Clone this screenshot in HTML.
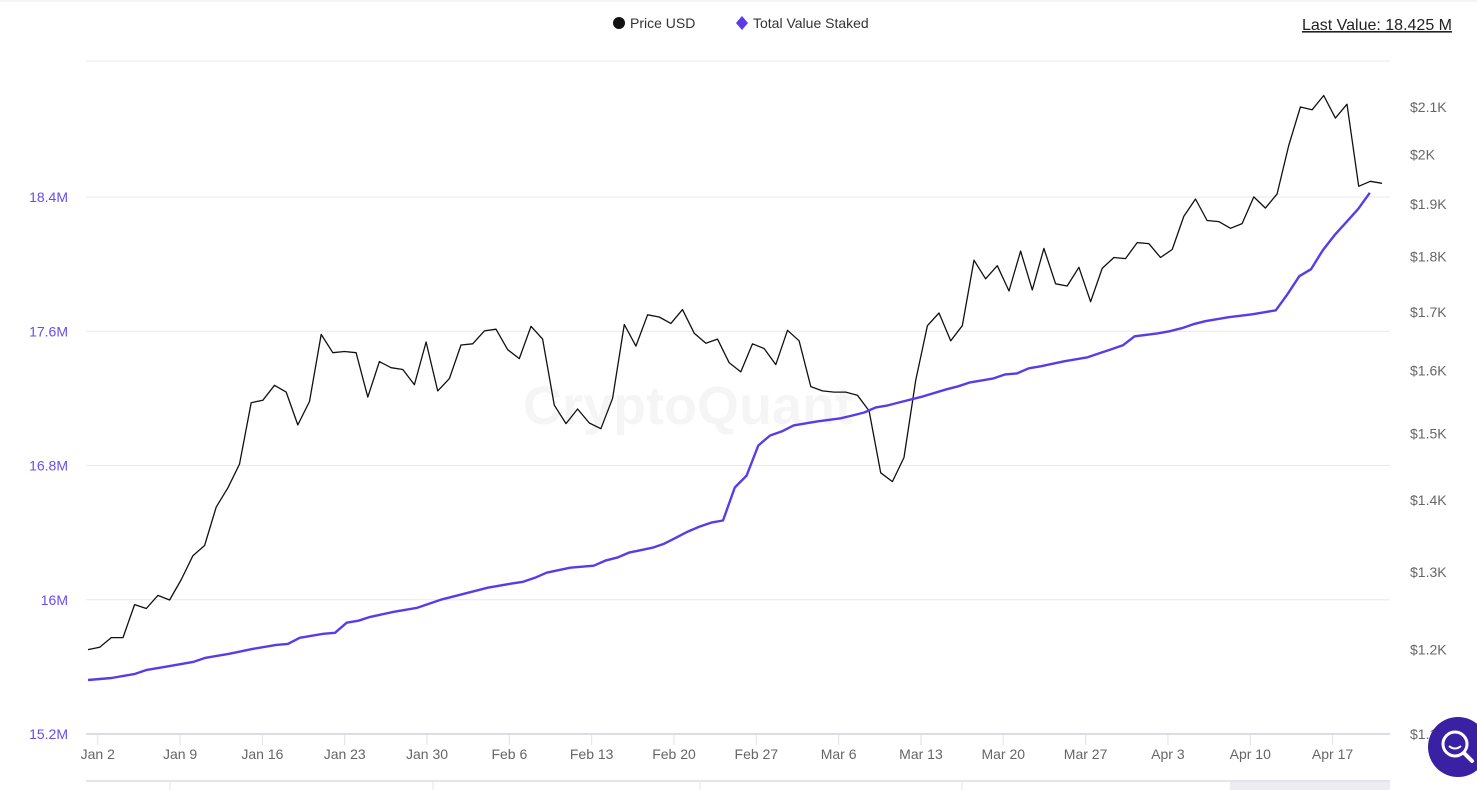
<!DOCTYPE html>
<html><head><meta charset="utf-8"><style>
html,body{margin:0;padding:0;background:#fff;width:1477px;height:790px;overflow:hidden;font-family:"Liberation Sans",sans-serif}
svg text{font-family:"Liberation Sans",sans-serif}
</style></head><body>
<svg id="chart" width="1477" height="790" xmlns="http://www.w3.org/2000/svg">
<line x1="0" y1="1" x2="1477" y2="1" stroke="#e8e8ee" stroke-width="1"/>
<g>
 <g><circle cx="619" cy="23" r="6" fill="#111"/><text x="630" y="28" font-size="14" fill="#333">Price USD</text></g>
 <g><path d="M742 16 L748 23 L742 30 L736 23 Z" fill="#5b3be8"/><text x="753" y="28" font-size="14" fill="#333">Total Value Staked</text></g>
</g>
<text x="1452" y="30" text-anchor="end" font-size="16" fill="#222" text-decoration="underline">Last Value: 18.425 M</text>
<text x="688" y="424" text-anchor="middle" font-size="54" font-weight="bold" fill="#000" opacity="0.035">CryptoQuant</text>
<g id="grid"></g>
<g id="laxis"></g>
<g id="raxis"></g>
<g id="xaxis"></g>
<g id="series"></g>
<g>
 <line x1="86" y1="781" x2="1390" y2="781" stroke="#e4e4ec" stroke-width="2"/>
 <rect x="1230" y="782" width="160" height="8" fill="#ececf2"/>
 <line x1="170" y1="781" x2="170" y2="790" stroke="#e4e4ec"/>
 <line x1="433" y1="781" x2="433" y2="790" stroke="#e4e4ec"/>
 <line x1="700" y1="781" x2="700" y2="790" stroke="#e4e4ec"/>
 <line x1="962" y1="781" x2="962" y2="790" stroke="#e4e4ec"/>
</g>
<g>
 <circle cx="1458" cy="747" r="30" fill="#3a20a3"/>
 <circle cx="1455" cy="744" r="12" fill="none" stroke="#fff" stroke-width="3"/>
 <path d="M1449 746 Q1455 751 1461 746" fill="none" stroke="#fff" stroke-width="2"/>
 <line x1="1464" y1="753" x2="1472" y2="761" stroke="#fff" stroke-width="4" stroke-linecap="round"/>
</g>
</svg>
<script>
const xTickLabels=["Jan 2","Jan 9","Jan 16","Jan 23","Jan 30","Feb 6","Feb 13","Feb 20","Feb 27","Mar 6","Mar 13","Mar 20","Mar 27","Apr 3","Apr 10","Apr 17"];
const xTickDays=[1,8,15,22,29,36,43,50,57,64,71,78,85,92,99,106];
const leftTicks=[15.2,16,16.8,17.6,18.4];
const leftTickLabels=["15.2M","16M","16.8M","17.6M","18.4M"];
const rightTicks=[1100,1200,1300,1400,1500,1600,1700,1800,1900,2000,2100];
const rightTickLabels=["$1.1K","$1.2K","$1.3K","$1.4K","$1.5K","$1.6K","$1.7K","$1.8K","$1.9K","$2K","$2.1K"];
const priceValues=[1200,1203,1215,1215,1257,1252,1269,1263,1290,1322,1336,1390,1418,1453,1548,1552,1576,1565,1513,1550,1661,1630,1632,1630,1557,1615,1605,1602,1577,1648,1567,1587,1643,1645,1667,1670,1635,1620,1675,1653,1544,1515,1538,1516,1507,1555,1678,1641,1695,1691,1680,1704,1663,1646,1653,1613,1598,1645,1637,1610,1668,1650,1574,1567,1565,1565,1560,1535,1440,1427,1463,1584,1676,1698,1650,1676,1793,1759,1783,1737,1810,1739,1815,1750,1746,1780,1718,1778,1798,1796,1826,1824,1798,1813,1876,1910,1868,1866,1853,1862,1914,1892,1920,2018,2100,2094,2125,2076,2106,1935,1945,1941];
const stakedDays=[0,2,4,5,7,9,10,12,14,16,17,18,20,21,22,23,24,26,28,29,30,31,33,34,36,37,38,39,41,43,44,45,46,48,49,50,51,52,53,54,55,56,57,58,59,60,62,64,65,66,67,68,69,71,73,74,75,76,77,78,79,80,81,83,85,86,87,88,89,91,92,93,94,95,97,99,100,101,102,103,104,105,106,107,108,109];
const stakedValues=[15.522,15.534,15.558,15.582,15.606,15.630,15.654,15.678,15.707,15.731,15.737,15.773,15.797,15.803,15.863,15.875,15.898,15.928,15.952,15.976,16.000,16.018,16.054,16.072,16.096,16.107,16.131,16.161,16.191,16.203,16.233,16.251,16.281,16.310,16.334,16.370,16.406,16.436,16.460,16.472,16.669,16.740,16.919,16.979,17.003,17.039,17.063,17.081,17.098,17.116,17.146,17.158,17.176,17.212,17.254,17.272,17.295,17.307,17.319,17.343,17.349,17.379,17.391,17.421,17.445,17.469,17.492,17.516,17.570,17.588,17.600,17.618,17.642,17.660,17.684,17.701,17.713,17.725,17.821,17.928,17.970,18.083,18.173,18.250,18.328,18.425];

const NS="http://www.w3.org/2000/svg";
function mk(tag,attrs,parent){const e=document.createElementNS(NS,tag);for(const k in attrs)e.setAttribute(k,attrs[k]);parent.appendChild(e);return e;}
const X0=88,DAYPX=11.76,YB=734,YT=197;
const xDay=d=>X0+d*DAYPX;
const yLeft=v=>YB-(v-15.2)/(18.4-15.2)*(YB-YT);
const lg=Math.log10;
const yRight=p=>107+(lg(2100)-lg(p))/(lg(2100)-lg(1100))*(734-107);
const priceX=i=>X0+i*(1294/(priceValues.length-1));

const grid=document.getElementById('grid');
[61].concat(leftTicks.map(yLeft)).forEach((y,i)=>{
 const l=mk('line',{x1:86,x2:1390,y1:y,y2:y,stroke:i==1?'#dcdce6':'#e8e8ee','stroke-width':i==1?2:1},grid);
 
 
});
const la=document.getElementById('laxis');
leftTicks.forEach((v,i)=>{
 const t=mk('text',{x:68,y:yLeft(v)+5,'text-anchor':'end','font-size':14,fill:'#6a4cf0'},la);t.textContent=leftTickLabels[i];
 
 
});
const ra=document.getElementById('raxis');
rightTicks.forEach((v,i)=>{
 const t=mk('text',{x:1410,y:yRight(v)+5,'font-size':14,fill:'#666'},ra);t.textContent=rightTickLabels[i];
 
 
});
const xa=document.getElementById('xaxis');
xTickDays.forEach((d,i)=>{
 const x=xDay(d)-2;
 const l=mk('line',{x1:x,x2:x,y1:734,y2:745,stroke:'#e0e0e8'},xa);
 
 
 const t=mk('text',{x:x,y:759,'text-anchor':'middle','font-size':14,fill:'#666'},xa);t.textContent=xTickLabels[i];
 
 
});
const s=document.getElementById('series');
const pp=mk('path',{d:priceValues.map((v,i)=>(i?'L':'M')+priceX(i).toFixed(1)+' '+yRight(v).toFixed(1)).join(' '),fill:'none',stroke:'#111','stroke-width':1.3,'stroke-linejoin':'round'},s);


const sp=mk('path',{d:stakedValues.map((v,i)=>(i?'L':'M')+xDay(stakedDays[i]).toFixed(1)+' '+yLeft(v).toFixed(1)).join(' '),fill:'none',stroke:'#5b3be8','stroke-width':2.4,'stroke-linejoin':'round'},s);


</script>
</body></html>
